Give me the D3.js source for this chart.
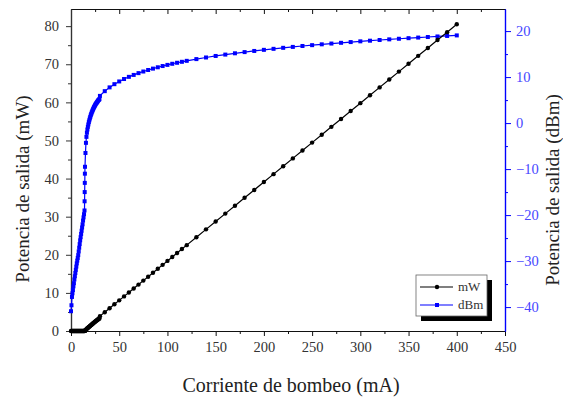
<!DOCTYPE html>
<html>
<head>
<meta charset="utf-8">
<script src="https://cdn.jsdelivr.net/npm/d3@7"></script>
<style>
  html, body { margin: 0; padding: 0; background: #fff; }
  svg { display: block; }
  text { font-family: "Liberation Serif", "DejaVu Serif", serif; }
</style>
</head>
<body>
<script>
// Pump current (mA): fine sweep near threshold, then coarse sweep
const currentFine = [0,0.5,1,1.5,2,2.5,3,3.5,4,4.5,5,5.5,6,6.5,7,7.5,8,8.5,9,9.5,10,10.5,11,11.5,12,12.5,13,13.5,14,
  14.1,14.2,14.3,14.4,14.5,15,15.5,16,16.5,17,17.5,18,18.5,19,19.5,20,20.5,21,21.5,22,22.5,23,23.5,24,24.5,25,25.5,26,26.5,27,27.5,28,28.5,29,29.5];
const currentCoarse = [30,35,40,45,50,55,60,65,70,75,80,85,90,95,100,105,110,115,120,
  130,140,150,160,170,180,190,200,210,220,230,240,250,260,270,280,290,300,310,320,330,340,350,360,370,380,390,400];

// Output power in mW
const powerMwFine = [0,0,0,0,0,0,0,0,0,0,0,0,0,0,0,0,0,0,0,0,0,0,0,0,0,0,0,0,0.01,
  0.02,0.03,0.05,0.08,0.11,0.22,0.37,0.50,0.62,0.72,0.83,0.93,1.05,1.15,1.26,1.36,1.48,1.58,1.70,1.80,1.91,2.02,2.14,2.24,2.34,2.45,2.57,2.66,2.75,2.85,2.95,3.05,3.16,3.24,3.31];
const powerMwCoarse = [3.90,4.94,5.97,7.01,8.04,9.08,10.11,11.15,12.18,13.22,14.25,15.29,16.32,17.36,18.39,19.43,20.46,21.50,22.53,
  24.60,26.67,28.74,30.81,32.88,34.95,37.02,39.09,41.16,43.23,45.30,47.37,49.44,51.51,53.58,55.65,57.72,59.79,61.86,63.93,66.00,68.07,70.14,72.21,74.28,76.35,78.42,80.49];

// Output power in dBm
const powerDbmFine = [-40.9,-39.6,-37.8,-37.0,-36.3,-35.5,-34.8,-34.0,-33.3,-32.6,-31.9,-31.2,-30.5,-29.9,-29.3,-28.7,-27.9,-27.1,-26.3,-25.5,-24.8,-24.1,-23.4,-22.7,-22.0,-21.2,-20.5,-19.8,-19.0,
  -17.0,-15.0,-13.0,-11.0,-9.5,-6.5,-4.3,-3.0,-2.1,-1.4,-0.8,-0.3,0.2,0.6,1.0,1.35,1.7,2.0,2.3,2.55,2.8,3.05,3.3,3.5,3.7,3.9,4.1,4.25,4.4,4.55,4.7,4.85,5.0,5.1,5.2];
const powerDbmCoarse = [5.91,6.94,7.76,8.46,9.05,9.58,10.05,10.47,10.86,11.21,11.54,11.84,12.13,12.40,12.65,12.89,13.11,13.32,13.53,
  13.91,14.26,14.59,14.89,15.17,15.43,15.68,15.92,16.14,16.36,16.56,16.76,16.94,17.12,17.29,17.45,17.61,17.77,17.91,18.06,18.20,18.33,18.46,18.59,18.71,18.83,18.94,19.06];

// Axis ticks
const xTicks = [0,50,100,150,200,250,300,350,400,450];
const xMinor = [25,75,125,175,225,275,325,375,425];
const yMwTicks = [0,10,20,30,40,50,60,70,80];
const yMwMinor = [5,15,25,35,45,55,65,75];
const yDbmTicks = [-40,-30,-20,-10,0,10,20];
const yDbmMinor = [-35,-25,-15,-5,5,15];

const seriesNames = ["mW", "dBm"];
const xTitle = "Corriente de bombeo (mA)";
const yLeftTitle = "Potencia de salida (mW)";
const yRightTitle = "Potencia de salida (dBm)";

const W = 563, H = 401;
const plotL = 71, plotR = 505, plotT = 9, plotB = 331;
const BLUE = "#0000ff";

const svg = d3.select("body").append("svg").attr("width", W).attr("height", H);
svg.append("rect").attr("width", W).attr("height", H).attr("fill", "#fff");

const x = d3.scaleLinear().domain([0, 450]).range([plotL, plotR]);
const yMw = d3.scaleLinear().domain([0, 84.5]).range([plotB, plotT]);
const yDbm = d3.scaleLinear().domain([-45.2, 24.8]).range([plotB, plotT]);

const mwData = currentFine.map((c, i) => [c, powerMwFine[i]])
  .concat(currentCoarse.map((c, i) => [c, powerMwCoarse[i]]));
const dbmData = currentFine.map((c, i) => [c, powerDbmFine[i]])
  .concat(currentCoarse.map((c, i) => [c, powerDbmCoarse[i]]));

function styleAxis(g, color, fontColor) {
  g.select(".domain").attr("stroke", color).attr("stroke-width", 1.2);
  g.selectAll(".tick line").attr("stroke", color).attr("stroke-width", 1);
  g.selectAll(".tick text").attr("fill", fontColor)
    .style("font-family", '"Liberation Serif", serif').style("font-size", "14.5px");
}

// Bottom axis
const gxB = svg.append("g").attr("transform", `translate(0,${plotB})`)
  .call(d3.axisBottom(x).tickValues(xTicks).tickSize(5).tickSizeOuter(0).tickPadding(6));
styleAxis(gxB, "#111", "#333");
const gxBm = svg.append("g").attr("transform", `translate(0,${plotB})`)
  .call(d3.axisBottom(x).tickValues(xMinor).tickSize(3).tickSizeOuter(0).tickFormat(""));
styleAxis(gxBm, "#111", "#333");

// Top axis with inward ticks
const gxT = svg.append("g").attr("transform", `translate(0,${plotT})`)
  .call(d3.axisBottom(x).tickValues(xTicks).tickSize(5).tickSizeOuter(0).tickFormat(""));
styleAxis(gxT, "#111", "#333");
const gxTm = svg.append("g").attr("transform", `translate(0,${plotT})`)
  .call(d3.axisBottom(x).tickValues(xMinor).tickSize(3).tickSizeOuter(0).tickFormat(""));
styleAxis(gxTm, "#111", "#333");

// Left axis (mW)
const gyL = svg.append("g").attr("transform", `translate(${plotL},0)`)
  .call(d3.axisLeft(yMw).tickValues(yMwTicks).tickSize(5).tickSizeOuter(0).tickPadding(7));
styleAxis(gyL, "#333", "#333");
const gyLm = svg.append("g").attr("transform", `translate(${plotL},0)`)
  .call(d3.axisLeft(yMw).tickValues(yMwMinor).tickSize(3).tickSizeOuter(0).tickFormat(""));
styleAxis(gyLm, "#333", "#333");

// Right axis (dBm)
const gyR = svg.append("g").attr("transform", `translate(${plotR},0)`)
  .call(d3.axisRight(yDbm).tickValues(yDbmTicks).tickSize(6).tickSizeOuter(0).tickPadding(5));
styleAxis(gyR, BLUE, "#4646ff");
const gyRm = svg.append("g").attr("transform", `translate(${plotR},0)`)
  .call(d3.axisRight(yDbm).tickValues(yDbmMinor).tickSize(3).tickSizeOuter(0).tickFormat(""));
styleAxis(gyRm, BLUE, "#4646ff");

// dBm series
svg.append("path").datum(dbmData)
  .attr("fill", "none").attr("stroke", BLUE).attr("stroke-width", 1.2)
  .attr("d", d3.line().x(d => x(d[0])).y(d => yDbm(d[1])));
svg.append("g").selectAll("rect").data(dbmData).join("rect")
  .attr("x", d => x(d[0]) - 2).attr("y", d => yDbm(d[1]) - 2)
  .attr("width", 4).attr("height", 4).attr("fill", BLUE);

// mW series
svg.append("path").datum(mwData)
  .attr("fill", "none").attr("stroke", "#000").attr("stroke-width", 1.2)
  .attr("d", d3.line().x(d => x(d[0])).y(d => yMw(d[1])));
svg.append("g").selectAll("circle").data(mwData).join("circle")
  .attr("cx", d => x(d[0])).attr("cy", d => yMw(d[1]))
  .attr("r", 2.2).attr("fill", "#000");

// Axis titles
svg.append("text").attr("x", 291).attr("y", 392).attr("text-anchor", "middle")
  .attr("fill", "#222").style("font-size", "20px").text(xTitle);
svg.append("text").attr("transform", "translate(29,189) rotate(-90)").attr("text-anchor", "middle")
  .attr("fill", "#222").style("font-size", "19px").text(yLeftTitle);
svg.append("text").attr("transform", "translate(559,190) rotate(-90)").attr("text-anchor", "middle")
  .attr("fill", "#222").style("font-size", "19px").text(yRightTitle);

// Legend
const lg = svg.append("g");
lg.append("rect").attr("x", 421).attr("y", 280).attr("width", 71).attr("height", 41).attr("fill", "#000");
lg.append("rect").attr("x", 416).attr("y", 275).attr("width", 71).attr("height", 41)
  .attr("fill", "#fff").attr("stroke", "#666").attr("stroke-width", 0.8);
const legendColors = ["#000", BLUE];
seriesNames.forEach((name, i) => {
  const cy = 287 + i * 18;
  lg.append("line").attr("x1", 420).attr("x2", 453).attr("y1", cy).attr("y2", cy)
    .attr("stroke", legendColors[i]).attr("stroke-width", 1.2);
  if (i === 0) {
    lg.append("circle").attr("cx", 437).attr("cy", cy).attr("r", 2.2).attr("fill", "#000");
  } else {
    lg.append("rect").attr("x", 435).attr("y", cy - 2).attr("width", 4).attr("height", 4).attr("fill", BLUE);
  }
  lg.append("text").attr("x", 458).attr("y", cy + 4).attr("fill", "#333")
    .style("font-size", "13px").text(name);
});
</script>
</body>
</html>
